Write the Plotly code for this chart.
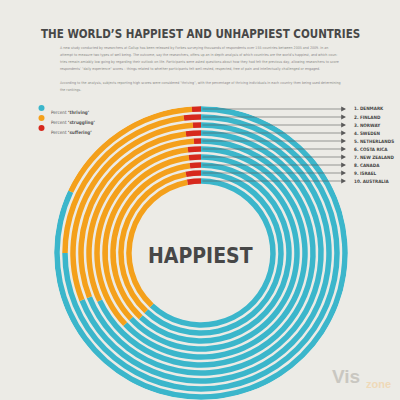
import plotly.graph_objects as go

countries = ["DENMARK", "FINLAND", "NORWAY", "SWEDEN", "NETHERLANDS",
             "COSTA RICA", "NEW ZEALAND", "CANADA", "ISRAEL", "AUSTRALIA"]
thriving = [82, 75, 69, 69, 68, 63, 63, 62, 62, 62]
struggling = [17, 23, 30, 29, 31, 35, 35, 36, 35, 35]
suffering = [1, 2, 1, 2, 1, 2, 2, 2, 3, 3]

legend_labels = ["thriving", "struggling", "suffering"]

BG = "#ecebe6"
BLUE = "#3bb6cb"
ORANGE = "#f4a01b"
RED = "#d6291d"
DARK = "#474747"
NARROW = "Liberation Sans Narrow, DejaVu Sans Condensed, Roboto, sans-serif"

body_lines = [
    "A new study conducted by researchers at Gallup has been released by Forbes surveying thousands of respondents over 155 countries between 2005 and 2009. In an",
    "attempt to measure two types of well being. The outcome, say the researchers, offers up an in depth analysis of which countries are the world's happiest, and which coun-",
    "tries remain amiably low going by regarding their outlook on life. Participants were asked questions about how they had felt the previous day, allowing researchers to score",
    "respondents' \"daily experience\" scores \u2013 things related to whether participants felt well-rested, respected, free of pain and intellectually challenged or engaged.",
    "",
    "According to the analysis, subjects reporting high scores were considered \"thriving\", with the percentage of thriving individuals in each country then being used determining",
    "the rankings.",
]

W = H = 400
CX, CY = 201, 253          # centre of the rings, in page pixels
R_OUT = 144                # centre line of the outer ring
STEP = 8                   # distance between rings
THICK = 5.5


def px(x):
    return x / W


def py(y):
    return 1 - y / H


fig = go.Figure()

radii = [R_OUT - STEP * i for i in range(len(countries))]
starts = [0] * len(countries)
for name, vals, color in [("thriving", thriving, BLUE),
                          ("struggling", struggling, ORANGE),
                          ("suffering", suffering, RED)]:
    spans = [v * 3.6 for v in vals]
    fig.add_trace(go.Barpolar(
        r=[THICK] * len(countries),
        base=[r - THICK / 2 for r in radii],
        theta=[s + w / 2 for s, w in zip(starts, spans)],
        width=spans,
        marker=dict(color=color, line=dict(width=0)),
        name=name,
        showlegend=False,
        hovertemplate="%{customdata}<extra>" + name + "</extra>",
        customdata=[f"{c}: {v}%" for c, v in zip(countries, vals)],
    ))
    starts = [s + w for s, w in zip(starts, spans)]

annotations = []

# title and intro text
annotations.append(dict(
    x=px(W / 2), y=py(25), xref="paper", yref="paper", showarrow=False,
    text="<b>THE WORLD\u2019S HAPPIEST AND UNHAPPIEST COUNTRIES</b>",
    font=dict(family=NARROW, size=11.5, color=DARK),
))
for i, line in enumerate(body_lines):
    if not line:
        continue
    annotations.append(dict(
        x=px(58), y=py(44 + 7 * i), xref="paper", yref="paper", showarrow=False,
        xanchor="left", text=line,
        font=dict(family=NARROW, size=3.6, color="#8c8c8a"),
    ))

# legend
shapes = []
for i, (lbl, color) in enumerate(zip(legend_labels, [BLUE, ORANGE, RED])):
    yy = 108 + 10 * i
    shapes.append(dict(type="circle", xref="paper", yref="paper",
                       x0=px(38.5), x1=px(44.5), y0=py(yy + 3), y1=py(yy - 3),
                       fillcolor=color, line=dict(width=0)))
    annotations.append(dict(
        x=px(49), y=py(yy), xref="paper", yref="paper", showarrow=False,
        xanchor="left", text=f"Percent <b>\u2018{lbl}\u2019</b>",
        font=dict(family=NARROW, size=4.6, color="#555555"),
    ))

# country pointers
for i, (c, r) in enumerate(zip(countries, radii)):
    yy = CY - r
    annotations.append(dict(
        x=px(346), y=py(yy), xref="paper", yref="paper",
        ax=-(346 - CX), ay=0, text="", showarrow=True,
        arrowhead=2, arrowsize=1.6, arrowwidth=0.6, arrowcolor="#5a5a5a",
    ))
    annotations.append(dict(
        x=px(352), y=py(yy), xref="paper", yref="paper", showarrow=False,
        xanchor="left", yanchor="middle", text=f"<b>{i + 1}. {c}</b>",
        font=dict(family=NARROW, size=4.6, color=DARK),
    ))

# centre label
annotations.append(dict(
    x=px(CX), y=py(256), xref="paper", yref="paper", showarrow=False,
    text="<b>HAPPIEST</b>",
    font=dict(family=NARROW, size=21, color=DARK),
))

# watermark
annotations.append(dict(
    x=px(362), y=py(389), xref="paper", yref="paper", showarrow=False,
    xanchor="right", text="<b>Vis</b>",
    font=dict(family="Liberation Sans", size=19, color="#c9c7c1"),
))
annotations.append(dict(
    x=px(364), y=py(392), xref="paper", yref="paper", showarrow=False,
    xanchor="left", text="<b>zone</b>",
    font=dict(family="Liberation Sans", size=11, color="#efd9b8"),
))

fig.update_layout(
    width=W, height=H,
    margin=dict(l=0, r=0, t=0, b=0),
    paper_bgcolor=BG,
    plot_bgcolor=BG,
    polar=dict(
        domain=dict(x=[px(CX - 150), px(CX + 150)], y=[0, 2 * (H - CY) / H]),
        bgcolor="rgba(0,0,0,0)",
        radialaxis=dict(visible=False, range=[0, H - CY]),
        angularaxis=dict(visible=False, direction="clockwise", rotation=90),
    ),
    annotations=annotations,
    shapes=shapes,
    showlegend=False,
)

fig.write_html(
    "out.html",
    config={"displayModeBar": False},
    post_script="document.body.style.margin='0';document.body.style.overflow='hidden';",
)
